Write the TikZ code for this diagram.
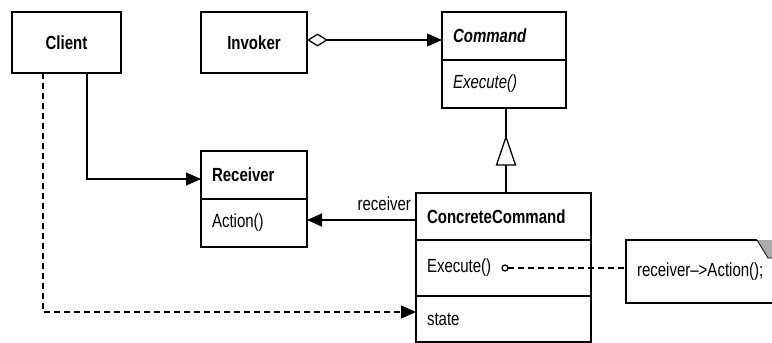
\documentclass[tikz,border=0pt]{standalone}
\usepackage{fontspec}
\setmainfont{Liberation Sans}[FakeStretch=0.79]
\usetikzlibrary{arrows.meta,calc}
\begin{document}
\begin{tikzpicture}[x=1pt,y=-1pt,
  font=\fontsize{19}{22}\selectfont,
  every node/.style={inner sep=0pt, outer sep=0pt},
  box/.style={draw, line width=1.2pt, anchor=north west, align=left,
              inner xsep=11pt, inner ysep=0pt},
  cbox/.style={box, align=center},
  conn/.style={line width=1.3pt},
  dashconn/.style={conn, dash pattern=on 6pt off 4pt},
  solidhead/.style={-{Triangle[length=15pt,width=13pt]}},
]
\useasboundingbox (0,0) rectangle (772,343);

% classes
\node[cbox, text width=87pt,  minimum height=61pt] (client)  at (12,12)  {\bfseries Client};
\node[cbox, text width=84pt,  minimum height=61pt] (invoker) at (201,12) {\bfseries Invoker};

\node[box, text width=102pt, minimum height=48pt] (cmd)    at (442,12) {\bfseries\itshape Command};
\node[box, text width=102pt, minimum height=48pt] (cmdops) at (442,60) {\itshape Execute()};

\node[box, text width=84pt, minimum height=48pt] (recv)    at (201,151) {\bfseries Receiver};
\node[box, text width=84pt, minimum height=48pt] (recvops) at (201,199) {Action()};

\node[box, text width=153pt, minimum height=47pt] (cc)      at (416,193) {\bfseries ConcreteCommand};
\node[box, text width=153pt, minimum height=56pt] (ccops)   at (416,240) {Execute()};
\node[box, text width=153pt, minimum height=46pt] (ccstate) at (416,296) {state};

% note with folded corner
\node[anchor=north west, minimum width=149pt, minimum height=63pt,
      text width=127pt, align=left, inner xsep=11pt] (note) at (626,240) {receiver-->Action();};
\draw[line width=1.2pt] ($(note.north east)+(-18,0)$) -- (note.north west)
   -- (note.south west) -- (note.south east) -- ($(note.north east)+(0,18)$);
\fill[gray!65] ($(note.north east)+(-18,0)$) -- (note.north east)
   -- ($(note.north east)+(0,18)$) -- ($(note.north east)+(-7,18)$) -- cycle;
\draw[line width=0.8pt] ($(note.north east)+(-18,0)$) -- ($(note.north east)+(-7,18)$)
   -- ($(note.north east)+(0,18)$);

% Invoker aggregates Command
\coordinate (inv1) at ($(invoker.east)+(0,-2.5)$);
\draw[conn, {Diamond[open,length=21pt,width=13pt]}-{Triangle[length=15pt,width=13pt]}]
  (inv1) -- (inv1 -| cmd.west);

% Client uses Receiver
\coordinate (cl2) at ($(client.south west)+(75,0)$);
\coordinate (rv1) at ($(recv.west)+(0,4)$);
\draw[conn, solidhead] (cl2) |- (rv1);

% Client creates ConcreteCommand (dashed)
\coordinate (cl1) at ($(client.south west)+(31,0)$);
\coordinate (st1) at ($(ccstate.west)+(0,-7)$);
\draw[dashconn, solidhead] (cl1) |- (st1);

% ConcreteCommand refers to Receiver
\coordinate (cc1) at ($(cc.west)+(0,3.5)$);
\draw[conn, solidhead] (cc1) -- (cc1 -| recvops.east);
\node[anchor=south east] (rlabel) at ($(cc1)+(-5,-9)$) {receiver};

% generalization ConcreteCommand -> Command
\coordinate (gtop) at ($(cmdops.south)+(2,0)$);
\draw[conn] (gtop) -- (gtop |- cc.north);
\draw[conn, fill=white] ($(gtop)+(0,29)$) -- ($(gtop)+(9.5,57)$) -- ($(gtop)+(-9.5,57)$) -- cycle;

% note attached to Execute()
\coordinate (ex) at (505,268);
\draw[conn] (ex) circle (3pt);
\draw[dashconn] ($(ex)+(3,0)$) -- (ex -| note.west);
\end{tikzpicture}
\end{document}
